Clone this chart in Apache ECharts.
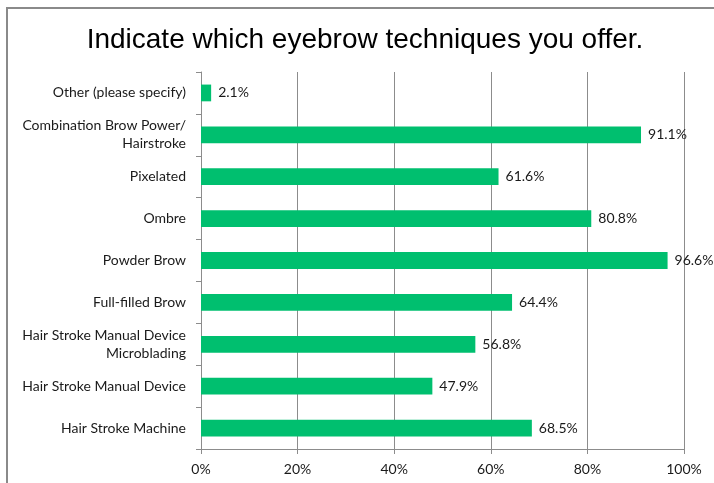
<!DOCTYPE html>
<html>
<head>
<meta charset="utf-8">
<script src="https://cdn.jsdelivr.net/npm/echarts@6/dist/echarts.min.js"></script>
<style>
html,body{margin:0;padding:0;background:#fff;}
#frame{position:absolute;left:6px;top:7px;width:720px;height:490px;border-left:2px solid #8a8a8a;border-top:2px solid #8a8a8a;box-sizing:border-box;}
#chart{position:absolute;left:0;top:0;width:714px;height:483px;}
</style>
</head>
<body>
<div id="frame"></div>
<div id="chart"></div>
<script>
const titleText = 'Indicate which eyebrow techniques you offer.';
const categories = [
  'Other (please specify)',
  'Combination Brow Power/\nHairstroke',
  'Pixelated',
  'Ombre',
  'Powder Brow',
  'Full-filled Brow',
  'Hair Stroke Manual Device\nMicroblading',
  'Hair Stroke Manual Device',
  'Hair Stroke Machine'
];
const values = [2.1, 91.1, 61.6, 80.8, 96.6, 64.4, 56.8, 47.9, 68.5];
const xTicks = [0, 20, 40, 60, 80, 100];

const chart = echarts.init(document.getElementById('chart'), null, {renderer: 'canvas'});
const labelFont = 'Lato, "Noto Sans", sans-serif';
chart.setOption({
  animation: false,
  backgroundColor: 'transparent',
  title: {
    text: titleText,
    left: 360,
    textAlign: 'center',
    top: 21,
    textStyle: {fontFamily: '"Liberation Sans", Arial, sans-serif', fontSize: 28, fontWeight: 'normal', color: '#000'}
  },
  grid: {left: 201, right: 30, top: 72, bottom: 34, containLabel: false},
  xAxis: {
    type: 'value',
    min: xTicks[0],
    max: xTicks[xTicks.length - 1],
    interval: 20,
    axisLine: {show: true, lineStyle: {color: '#8c8c8c', width: 1}},
    axisTick: {show: true, length: 5, lineStyle: {color: '#8c8c8c'}},
    axisLabel: {formatter: '{value}%', margin: 13, fontFamily: labelFont, fontSize: 14, color: '#1a1a1a'},
    splitLine: {show: true, lineStyle: {color: '#8c8c8c', width: 1}}
  },
  yAxis: {
    type: 'category',
    inverse: true,
    data: categories,
    axisLine: {show: true, lineStyle: {color: '#8c8c8c', width: 1}},
    axisTick: {show: true, length: 5, lineStyle: {color: '#8c8c8c'}},
    axisLabel: {margin: 15, fontFamily: labelFont, fontSize: 14, color: '#1a1a1a', lineHeight: 18, align: 'right'}
  },
  series: [{
    type: 'bar',
    data: values,
    barWidth: '40%',
    itemStyle: {color: '#00BF6F'},
    label: {
      show: true,
      position: 'right',
      distance: 7,
      formatter: p => p.value.toFixed(1) + '%',
      fontFamily: labelFont,
      fontSize: 14,
      color: '#1a1a1a'
    }
  }]
});
</script>
</body>
</html>
